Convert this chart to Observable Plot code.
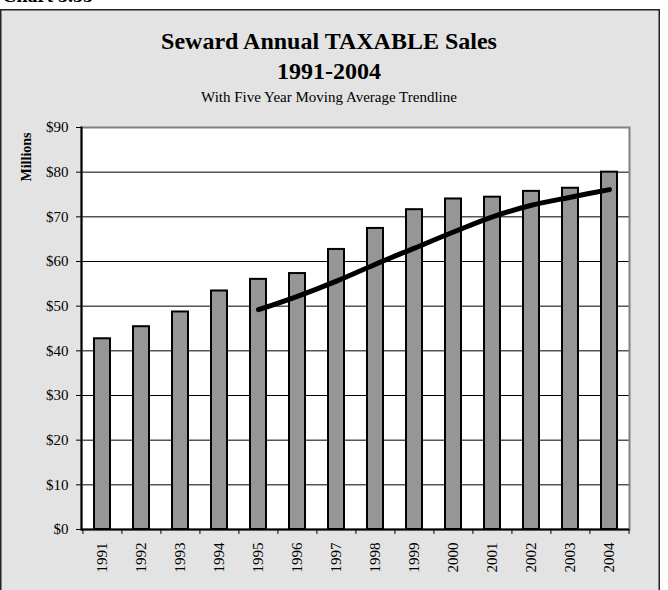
<!DOCTYPE html>
<html>
<head>
<meta charset="utf-8">
<script src="https://cdn.jsdelivr.net/npm/d3@7"></script>
<script src="https://cdn.jsdelivr.net/npm/@observablehq/plot@0.6"></script>
<style>
  html, body { margin: 0; padding: 0; background: white; }
  #chart { width: 668px; height: 590px; overflow: hidden; }
  #chart svg g[aria-label="y-axis tick label"],
  #chart svg g[aria-label="x-axis tick label"] { font-size: 15px !important; font-family: 'Liberation Serif', 'Times New Roman', serif !important; }
</style>
</head>
<body>
<div id="chart"></div>
<script>
const years = [1991,1992,1993,1994,1995,1996,1997,1998,1999,2000,2001,2002,2003,2004];
const sales = [42.7,45.4,48.7,53.4,56.0,57.3,62.7,67.4,71.6,74.0,74.4,75.7,76.4,80.0];
const trendYears = [1995,1996,1997,1998,1999,2000,2001,2002,2003,2004];
const trendValues = [49.2,52.2,55.6,59.4,63.0,66.6,70.0,72.6,74.4,76.1];
const yTicks = [0,10,20,30,40,50,60,70,80,90];
const yTickLabels = ["$0","$10","$20","$30","$40","$50","$60","$70","$80","$90"];
const gridValues = [10,20,30,40,50,60,70,80];

const chartTitle = "Seward Annual TAXABLE Sales";
const chartTitle2 = "1991-2004";
const chartSubtitle = "With Five Year Moving Average Trendline";
const yLabel = "Millions";
const chartNumber = "Chart 3.33";

const barData = years.map((y, i) => ({year: y, value: sales[i]}));
const trendData = trendYears.map((y, i) => ({year: y, value: trendValues[i]}));

const W = 668, H = 590;
const mL = 81, mR = 39, mT = 127, mB = 61;
const step = (W - mL - mR) / years.length;

const serif = "'Liberation Serif', 'Times New Roman', serif";

const plot = Plot.plot({
  width: W, height: H,
  marginLeft: mL, marginRight: mR, marginTop: mT, marginBottom: mB,
  style: {fontFamily: serif, fontSize: "15px", background: "transparent", color: "black"},
  x: {type: "band", domain: years, paddingInner: 0.6, paddingOuter: 0.3},
  y: {domain: [0, 90]},
  marks: [
    Plot.frame({fill: "white"}),
    Plot.ruleY(gridValues, {stroke: "black", strokeWidth: 1}),
    Plot.frame({stroke: "#808080", strokeWidth: 2}),
    Plot.barY(barData, {x: "year", y: "value", fill: "#969696", stroke: "black", strokeWidth: 2}),
    Plot.line(trendData, {x: "year", y: "value", stroke: "black", strokeWidth: 5, curve: "catmull-rom", strokeLinecap: "round", strokeLinejoin: "round"}),
    Plot.ruleY([0], {stroke: "black", strokeWidth: 2}),
    Plot.frame({anchor: "left", stroke: "black", strokeWidth: 2}),
    Plot.ruleX(years, {x: d => d, y1: 0, y2: -1.1, dx: -step / 2, stroke: "black", strokeWidth: 1}),
    Plot.ruleX([years[years.length - 1]], {x: d => d, y1: 0, y2: -1.1, dx: step / 2, stroke: "black", strokeWidth: 1}),
    Plot.axisY({ticks: yTicks, tickFormat: (d) => yTickLabels[yTicks.indexOf(d)], tickSize: 5, tickPadding: 8, fontSize: 15, label: null}),
    Plot.axisX({tickSize: 0, tickRotate: -90, tickPadding: 13, fontSize: 15, tickFormat: (d) => String(d), label: null})
  ]
});

document.getElementById("chart").appendChild(plot);

const svg = d3.select(plot);
// outer panel background
svg.insert("rect", ":first-child")
  .attr("x", 0.75).attr("y", 9.75).attr("width", 658.5).attr("height", 600)
  .attr("fill", "#e3e3e3").attr("stroke", "#222").attr("stroke-width", 1.5);

function addText(x, y, txt, size, bold, anchor, transform) {
  const t = svg.append("text")
    .style("font-family", serif).style("font-size", size + "px")
    .style("font-weight", bold ? "bold" : "normal")
    .attr("fill", "black").attr("text-anchor", anchor).text(txt);
  if (transform) t.attr("transform", transform); else t.attr("x", x).attr("y", y);
  return t;
}

addText(2, 2, chartNumber, 20, true, "start");
addText(329, 49, chartTitle, 24, true, "middle");
addText(329, 79, chartTitle2, 24, true, "middle");
addText(329, 101.5, chartSubtitle, 15, false, "middle");
addText(0, 0, yLabel, 14, true, "middle", "translate(31,157) rotate(-90)");
</script>
</body>
</html>
